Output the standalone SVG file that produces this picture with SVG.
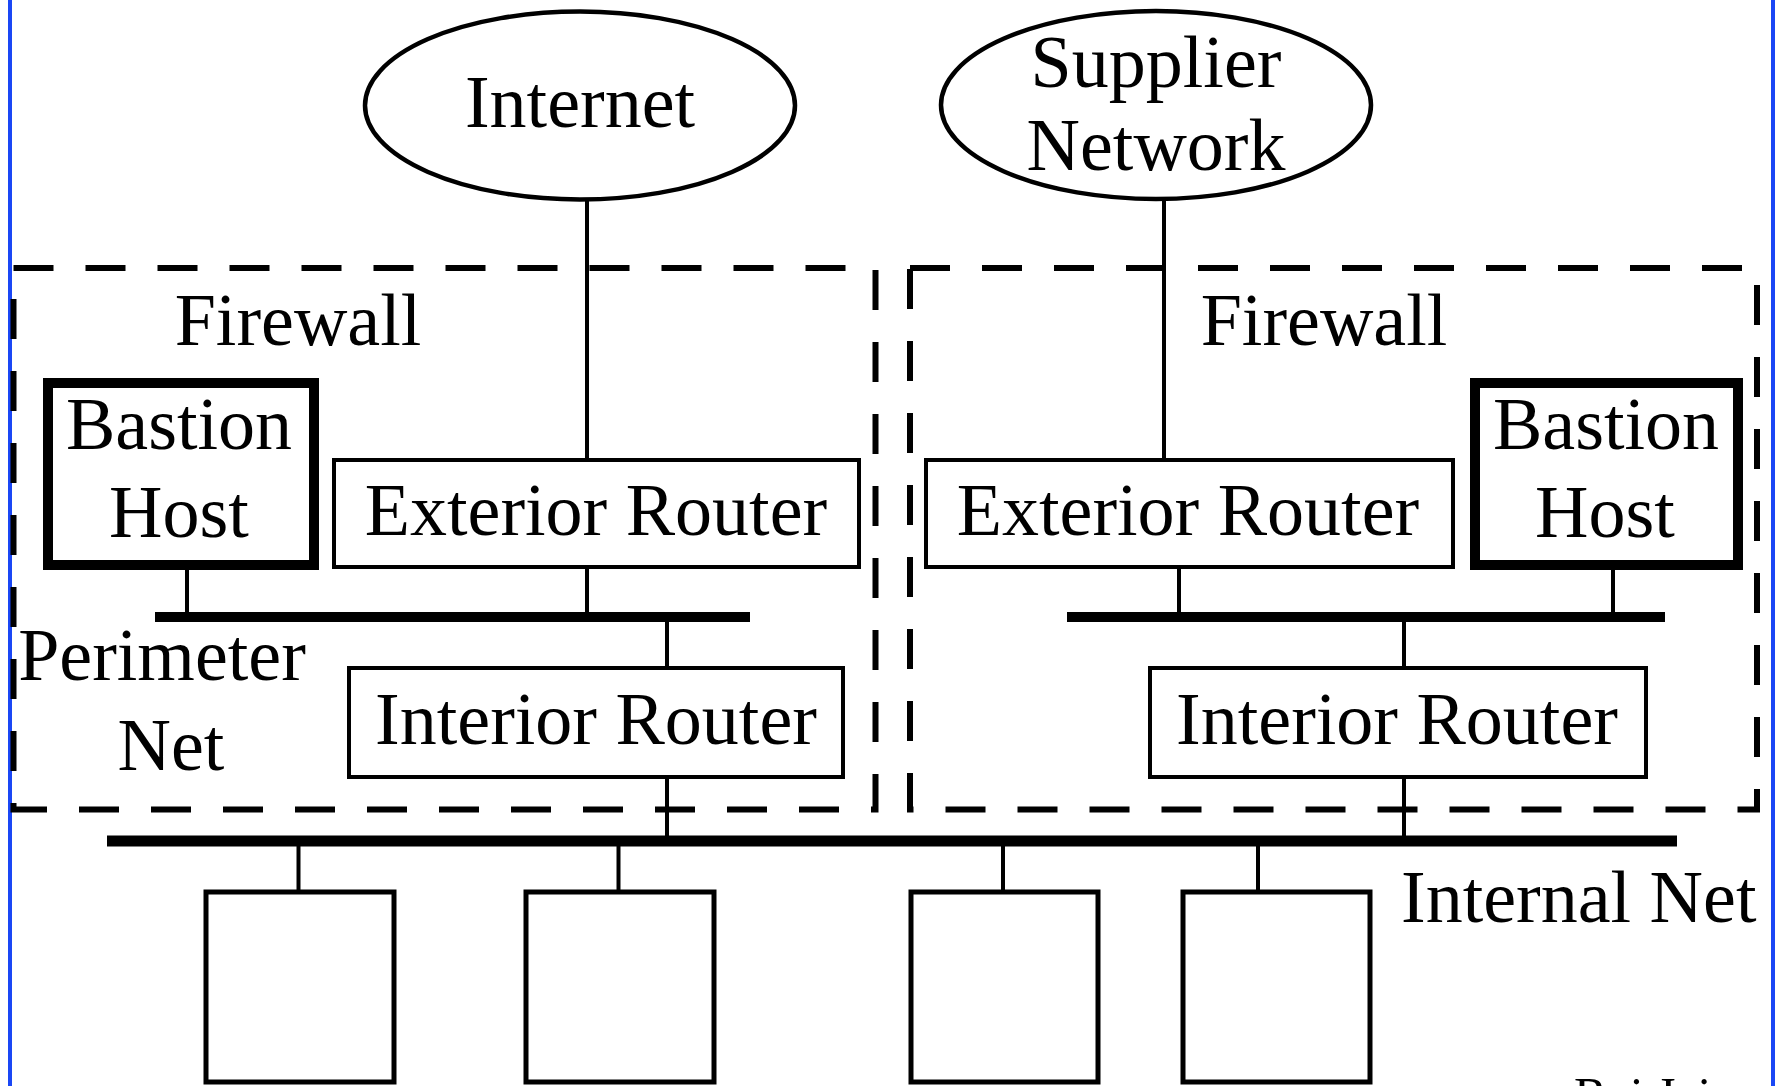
<svg xmlns="http://www.w3.org/2000/svg" width="1779" height="1086" viewBox="0 0 1779 1086">
<style>
text{font-family:"Liberation Serif","Times New Roman",serif;font-size:74px;fill:#000}
.c{text-anchor:middle}
.box{fill:#fff;stroke:#000;stroke-width:4}
.bastion{fill:#fff;stroke:#000;stroke-width:10}
.cloud{fill:#fff;stroke:#000;stroke-width:4.5}
.fw{fill:none;stroke:#000;stroke-width:6;stroke-dasharray:40 32}
.bus{stroke:#000;stroke-width:10}
.wire{stroke:#000;stroke-width:4;fill:none}
.frame{stroke:#1a47f5;stroke-width:4}
</style>
<rect width="1779" height="1086" fill="#fff"/>
<line class="frame" x1="10" y1="0" x2="10" y2="1086"/>
<line class="frame" x1="1773" y1="0" x2="1773" y2="1086"/>

<g id="firewall-left">
<rect class="fw" x="13.5" y="268" width="862" height="541.5"/>
<text class="c" x="298" y="345">Firewall</text>
</g>
<g id="firewall-right">
<rect class="fw" x="910" y="268" width="847" height="541.5"/>
<text class="c" x="1324" y="345">Firewall</text>
</g>

<g id="connectors">
<line class="wire" x1="587" y1="200" x2="587" y2="459"/>
<line class="wire" x1="1164" y1="200" x2="1164" y2="459"/>
<line class="wire" x1="187" y1="568" x2="187" y2="614"/>
<line class="wire" x1="587" y1="568" x2="587" y2="614"/>
<line class="wire" x1="667" y1="620" x2="667" y2="667"/>
<line class="wire" x1="667" y1="777" x2="667" y2="838"/>
<line class="wire" x1="1179" y1="568" x2="1179" y2="614"/>
<line class="wire" x1="1613" y1="568" x2="1613" y2="614"/>
<line class="wire" x1="1404" y1="620" x2="1404" y2="667"/>
<line class="wire" x1="1404" y1="777" x2="1404" y2="838"/>
<line class="wire" x1="298.5" y1="844" x2="298.5" y2="891"/>
<line class="wire" x1="618.5" y1="844" x2="618.5" y2="891"/>
<line class="wire" x1="1003" y1="844" x2="1003" y2="891"/>
<line class="wire" x1="1258" y1="844" x2="1258" y2="891"/>
</g>

<g id="internet">
<ellipse class="cloud" cx="580" cy="105.5" rx="215" ry="94"/>
<text class="c" x="580" y="127">Internet</text>
</g>
<g id="supplier-network">
<ellipse class="cloud" cx="1156" cy="105" rx="215" ry="94"/>
<text class="c" x="1156" y="87">Supplier</text>
<text class="c" x="1156" y="170">Network</text>
</g>

<g id="bastion-left">
<rect class="bastion" x="48" y="383" width="266" height="182"/>
<text class="c" x="179" y="449">Bastion</text>
<text class="c" x="179" y="537">Host</text>
</g>
<g id="exterior-left">
<rect class="box" x="334" y="460" width="525" height="107"/>
<text class="c" x="596" y="535">Exterior Router</text>
</g>
<g id="perimeter-net-left">
<line class="bus" x1="155" y1="617" x2="750" y2="617"/>
<text class="c" x="162" y="680">Perimeter</text>
<text class="c" x="171" y="770">Net</text>
</g>
<g id="interior-left">
<rect class="box" x="349" y="668" width="494" height="109"/>
<text class="c" x="596" y="744">Interior Router</text>
</g>

<g id="exterior-right">
<rect class="box" x="926" y="460" width="527" height="107"/>
<text class="c" x="1188" y="535">Exterior Router</text>
</g>
<g id="bastion-right">
<rect class="bastion" x="1475" y="383" width="263" height="182"/>
<text class="c" x="1606" y="449">Bastion</text>
<text class="c" x="1605" y="537">Host</text>
</g>
<g id="perimeter-net-right">
<line class="bus" x1="1067" y1="617" x2="1665" y2="617"/>
</g>
<g id="interior-right">
<rect class="box" x="1150" y="668" width="496" height="109"/>
<text class="c" x="1397" y="744">Interior Router</text>
</g>

<g id="internal-net">
<line class="bus" x1="107" y1="841" x2="1677" y2="841" style="stroke-width:11"/>
<text x="1401" y="922">Internal Net</text>
</g>

<g id="host-1"><rect class="box" x="206" y="892" width="188" height="190" style="stroke-width:5"/></g>
<g id="host-2"><rect class="box" x="526" y="892" width="188" height="190" style="stroke-width:5"/></g>
<g id="host-3"><rect class="box" x="911" y="892" width="187" height="190" style="stroke-width:5"/></g>
<g id="host-4"><rect class="box" x="1183" y="892" width="187" height="190" style="stroke-width:5"/></g>

<text x="1574" y="1112" style="font-size:50px">Raj Jain</text>
</svg>
